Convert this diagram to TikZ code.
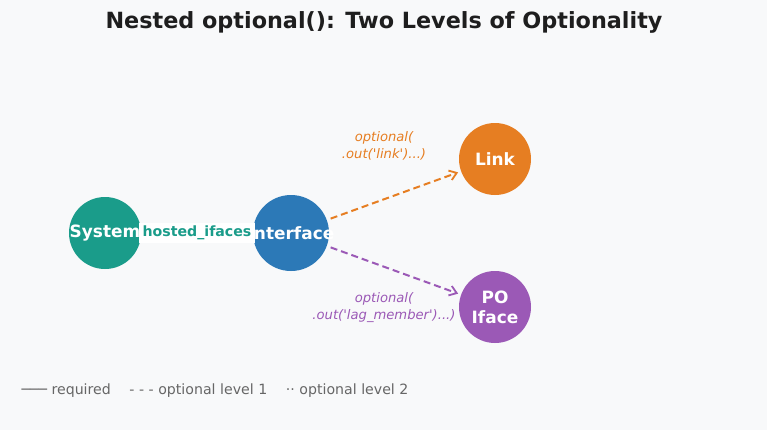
\documentclass[tikz,border=0pt]{standalone}
\usepackage{fontspec}
\setmainfont{DejaVu Sans}
\usepackage{tikz}
\usetikzlibrary{arrows.meta,positioning}
\definecolor{bgc}{HTML}{F8F9FA}
\definecolor{tealc}{HTML}{1A9C8A}
\definecolor{bluec}{HTML}{2C79B7}
\definecolor{orangec}{HTML}{E67E22}
\definecolor{purplec}{HTML}{9B59B6}
\definecolor{titlec}{HTML}{1E1E1E}
\definecolor{legc}{HTML}{666666}
\newcommand{\q}{\textquotesingle}

\begin{document}
\begin{tikzpicture}[x=1bp, y=1bp,
  ent/.style={circle, minimum size=72bp, inner sep=0pt,
    label={[text=white, align=center, font=\fontsize{17}{20}\selectfont\bfseries]center:#1}},
  optlbl/.style={align=center, font=\fontsize{13.2}{17}\selectfont\itshape},
  optedge/.style={dashed, dash pattern=on 7bp off 4bp, line width=2bp,
    -{Straight Barb[length=7bp, width=10bp, line width=1.8bp]}, shorten <=4bp, shorten >=3bp}]
\fill[bgc] (0,0) rectangle (767,430);
\node[font=\fontsize{22.4}{26}\selectfont\bfseries, text=titlec] (title) at (384,408) {Nested optional(): Two Levels of Optionality};
% entities
\node[ent=System, fill=tealc] (system) at (105,197) {};
\node[ent=Interface, fill=bluec, minimum size=76bp] (iface) at (291,197) {};
\node[ent=Link, fill=orangec] (link) at (495,271) {};
\node[ent={PO\\Iface}, fill=purplec] (poiface) at (495,123) {};
% required relation
\draw[tealc!30, line width=4bp] (system) -- (iface)
  node[midway, fill=white, inner xsep=4bp, inner ysep=3bp, text=tealc, font=\fontsize{14.2}{16}\selectfont\bfseries] (hosted) {hosted\_ifaces};
% optional relations
\draw[optedge, orangec] (iface) -- (link);
\draw[optedge, purplec] (iface) -- (poiface);
\node[optlbl, text=orangec] (linklbl) at (384,284) {optional(\\.out(\q link\q)...)};
\node[optlbl, text=purplec] (polbl) at (384,122) {optional(\\.out(\q lag\_member\q)...)};
% legend
\node[anchor=west, text=legc, font=\fontsize{14.2}{16}\selectfont] (legend) at (18,39) {─── required \quad - - - optional level 1 \quad ·· optional level 2};
\end{tikzpicture}
\end{document}
